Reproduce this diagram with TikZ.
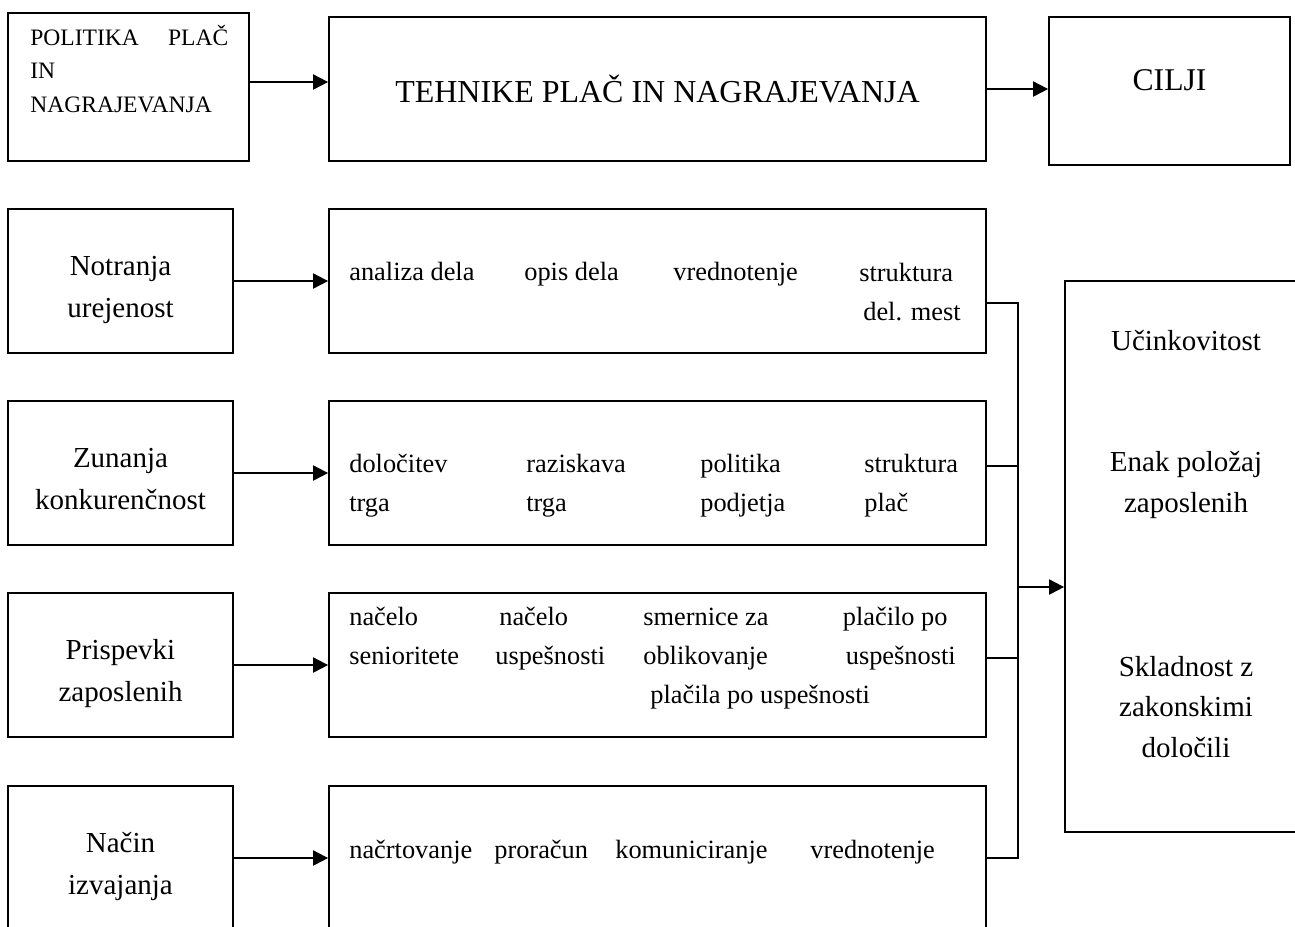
\documentclass[tikz,border=0pt]{standalone}
\usepackage{fontspec}
\setmainfont{Liberation Serif}
\usetikzlibrary{arrows.meta,positioning,calc}
\tikzset{
  lbox/.style={draw,line width=1pt,minimum width=4.5cm,minimum height=2.88cm,
              inner sep=0pt,align=center,font=\fontsize{16.5}{24}\selectfont},
  src/.style={lbox,text height=46pt,text depth=4pt},
  wbox/.style={lbox,minimum width=13.14cm},
  cell/.style={anchor=base west,inner sep=0pt,align=left,font=\fontsize{15}{22}\selectfont},
  aim/.style={anchor=base,inner sep=0pt,align=center,font=\fontsize{16.5}{23}\selectfont},
  sig/.style={-{Triangle[length=3mm,width=3mm]},line width=1.1pt},
  wire/.style={line width=0.8pt}
}
\begin{document}
\begin{tikzpicture}
  \useasboundingbox (0,0) rectangle (25.9,-18.52);
  \clip (0,0) rectangle (25.9,-18.52);
  % ---- top row ----
  \node[lbox,minimum width=4.82cm,minimum height=2.96cm] (pol) at (2.57,-1.74) {};
  \node[cell,font=\fontsize{13.4}{18.8}\selectfont] (polt) at (0.60,-2.24)
       {\makebox[3.96cm][s]{POLITIKA\hfill PLAČ}\\IN\\NAGRAJEVANJA};
  \node[wbox,font=\fontsize{18.2}{22}\selectfont] (teh) at (13.15,-1.78) {TEHNIKE PLAČ IN NAGRAJEVANJA};
  \node[lbox,minimum width=4.82cm,minimum height=2.96cm,font=\fontsize{18}{22}\selectfont,
        text height=0.42cm,text depth=0.46cm] (cilji) at (23.39,-1.82) {CILJI};
  \draw[sig] ([yshift=1mm]pol.east) -- ([yshift=1mm]pol.east -| teh.west);
  \draw[sig] (teh.east) -- (teh.east -| cilji.west);
  % ---- left column ----
  \node[src] (notr) at (2.41,-5.62) {Notranja\\urejenost};
  \node[src] (zun) at (2.41,-9.46) {Zunanja\\konkurenčnost};
  \node[src] (prisp) at (2.41,-13.30) {Prispevki\\zaposlenih};
  \node[src] (nacin) at (2.41,-17.16) {Način\\izvajanja};
  % ---- technique boxes ----
  \node[wbox] (tnotr) at (13.15,-5.62) {};
  \node[wbox] (tzun) at (13.15,-9.46) {};
  \node[wbox] (tprisp) at (13.15,-13.30) {};
  \node[wbox] (tnacin) at (13.15,-17.16) {};
  \draw[sig] (notr) -- (tnotr);
  \draw[sig] (zun) -- (tzun);
  \draw[sig] (prisp) -- (tprisp);
  \draw[sig] (nacin) -- (tnacin);
  % row texts (base = last line)
  \node[cell] (a1) at (6.98,-5.60) {analiza dela};
  \node[cell] (a2) at (10.48,-5.60) {opis dela};
  \node[cell] (a3) at (13.46,-5.60) {vrednotenje};
  \node[cell] (a4) at (17.18,-6.40) {struktura\\\hspace*{0.08cm}del. mest};
  \node[cell] (b1) at (6.98,-10.22) {določitev\\trga};
  \node[cell] (b2) at (10.52,-10.22) {raziskava\\trga};
  \node[cell] (b3) at (14.00,-10.22) {politika\\podjetja};
  \node[cell] (b4) at (17.28,-10.22) {struktura\\plač};
  \node[cell] (c1) at (6.98,-13.28) {načelo\\senioritete};
  \node[cell] (c2) at (9.90,-13.28) {\hspace*{0.08cm}načelo\\uspešnosti};
  \node[cell] (c3) at (12.86,-14.06) {smernice za\\oblikovanje\\\hspace*{0.14cm}plačila po uspešnosti};
  \node[cell] (c4) at (16.85,-13.28) {plačilo po\\\hspace*{0.06cm}uspešnosti};
  \node[cell] (d1) at (6.98,-17.16) {načrtovanje};
  \node[cell] (d2) at (9.88,-17.16) {proračun};
  \node[cell] (d3) at (12.30,-17.16) {komuniciranje};
  \node[cell] (d4) at (16.20,-17.16) {vrednotenje};
  % ---- goals ----
  \node[lbox,minimum width=4.84cm,minimum height=11.02cm] (goals) at (23.72,-11.13) {};
  \node[aim] (g1) at (23.72,-7.00) {Učinkovitost};
  \node[aim] (g2) at (23.72,-10.24) {Enak položaj\\zaposlenih};
  \node[aim] (g3) at (23.72,-15.14) {Skladnost z\\zakonskimi\\določili};
  % bus to goals
  \coordinate (bb) at ($(tnacin.east)+(6.2mm,0)$);
  \coordinate (join) at (20.34,-11.74);
  \draw[wire] ([yshift=-4.4mm]tnotr.east) -| (bb) -- (tnacin.east);
  \draw[wire] ([yshift=1.4mm]tzun.east) -- ++(6.2mm,0);
  \draw[wire] ([yshift=1.4mm]tprisp.east) -- ++(6.2mm,0);
  \draw[sig] (join) -- (join -| goals.west);
\end{tikzpicture}
\end{document}
